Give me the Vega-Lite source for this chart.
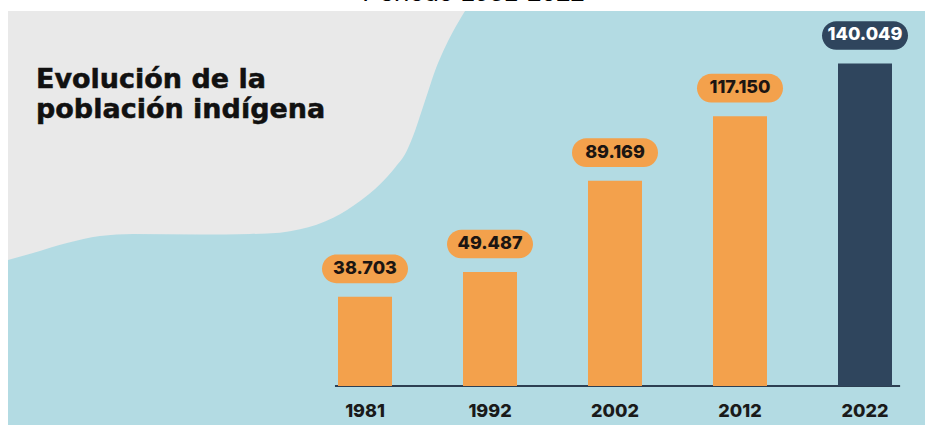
{
  "$schema": "https://vega.github.io/schema/vega-lite/v6.json",
  "width": 917,
  "height": 414,
  "autosize": {"type": "none"},
  "padding": {"left": 8, "top": 11, "right": 0, "bottom": 0},
  "background": "white",
  "title": {"text": "Período 1981-2022", "font": "Liberation Sans", "fontSize": 26, "fontWeight": "normal", "color": "#000000", "anchor": "middle", "offset": 5, "dx": 7},
  "config": {
    "view": {"fill": "#B3DBE3", "stroke": null},
    "locale": {"number": {"decimal": ",", "thousands": ".", "grouping": [3], "currency": ["", ""]}}
  },
  "datasets": {
    "wave": [
      {"px": 0, "py": 39.86}, {"px": 2.73, "py": 41.55}, {"px": 6.43, "py": 43.96}, {"px": 10.03, "py": 45.65},
      {"px": 13.63, "py": 46.14}, {"px": 20.94, "py": 46.01}, {"px": 26.39, "py": 46.14}, {"px": 29.66, "py": 46.45},
      {"px": 31.84, "py": 47.27}, {"px": 35.47, "py": 50.07}, {"px": 38.39, "py": 54.11}, {"px": 40.57, "py": 58.14},
      {"px": 42.2, "py": 62.15}, {"px": 43.48, "py": 66.18}, {"px": 44.38, "py": 71.01}, {"px": 45.11, "py": 75.85},
      {"px": 45.83, "py": 80.68}, {"px": 46.56, "py": 85.51}, {"px": 47.47, "py": 90.34}, {"px": 48.56, "py": 95.17},
      {"px": 49.84, "py": 100}
    ],
    "heading": [{"text": "Evolución de la\npoblación indígena", "px": 3.05, "py": 81.4}],
    "censo": [
      {"year": "1981", "pop": 38703},
      {"year": "1992", "pop": 49487},
      {"year": "2002", "pop": 89169},
      {"year": "2012", "pop": 117150},
      {"year": "2022", "pop": 140049}
    ],
    "base": [{"from": "1981", "to": "2022", "pop": 0}]
  },
  "layer": [
    {
      "encoding": {
        "x": {"field": "px", "type": "quantitative", "scale": {"domain": [0, 100], "nice": false, "zero": false}, "axis": null},
        "y": {"field": "py", "type": "quantitative", "scale": {"domain": [0, 100], "nice": false, "zero": false}, "axis": null}
      },
      "layer": [
        {
          "data": {"name": "wave"},
          "mark": {"type": "area", "color": "#E9E9E9", "interpolate": "monotone"},
          "encoding": {"y2": {"datum": 100}}
        },
        {
          "data": {"name": "heading"},
          "mark": {"type": "text", "align": "left", "baseline": "alphabetic", "lineBreak": "\n", "lineHeight": 30, "font": "DejaVu Sans", "fontSize": 27, "fontWeight": "bold", "color": "#111111", "stroke": "#111111", "strokeWidth": 0.5},
          "encoding": {"text": {"field": "text"}}
        }
      ]
    },
    {
      "data": {"name": "censo"},
      "encoding": {
        "x": {
          "field": "year", "type": "nominal",
          "scale": {"range": [330, 884], "paddingInner": 0.568, "paddingOuter": 0},
          "axis": {"orient": "bottom", "offset": -39, "domain": false, "ticks": false, "grid": false, "title": null, "labelAngle": 0, "labelPadding": 16, "labelFont": "Inter", "labelFontSize": 18, "labelFontWeight": 800, "labelColor": "#1A1A1A"}
        },
        "y": {"field": "pop", "type": "quantitative", "scale": {"domain": [-16935, 162831], "nice": false, "zero": false}, "axis": null}
      },
      "layer": [
        {
          "data": {"name": "base"},
          "mark": {"type": "rule", "color": "#2D3F52", "strokeWidth": 2},
          "encoding": {
            "x": {"datum": "1981", "bandPosition": -0.056},
            "x2": {"datum": "2022", "bandPosition": 1.15},
            "y": {"field": "pop", "type": "quantitative"}
          }
        },
        {
          "mark": {"type": "bar"},
          "encoding": {
            "color": {"condition": {"test": "datum.year == '2022'", "value": "#2F455D"}, "value": "#F3A14C"}
          }
        },
        {
          "mark": {"type": "point", "shape": "M-1,-0.5 L1,-0.5 A0.5,0.5 0 0 1 1,0.5 L-1,0.5 A0.5,0.5 0 0 1 -1,-0.5 Z", "size": 3287, "filled": true, "opacity": 1, "yOffset": -28},
          "encoding": {
            "color": {"condition": {"test": "datum.year == '2022'", "value": "#2F455D"}, "value": "#F3A14C"}
          }
        },
        {
          "mark": {"type": "text", "baseline": "middle", "align": "center", "font": "Inter", "fontSize": 18, "fontWeight": 800, "yOffset": -28},
          "encoding": {
            "text": {"field": "pop", "type": "quantitative", "format": ",d"},
            "color": {"condition": {"test": "datum.year == '2022'", "value": "#FFFFFF"}, "value": "#1C1512"}
          }
        }
      ]
    }
  ],
  "resolve": {"scale": {"x": "independent", "y": "independent"}}
}
